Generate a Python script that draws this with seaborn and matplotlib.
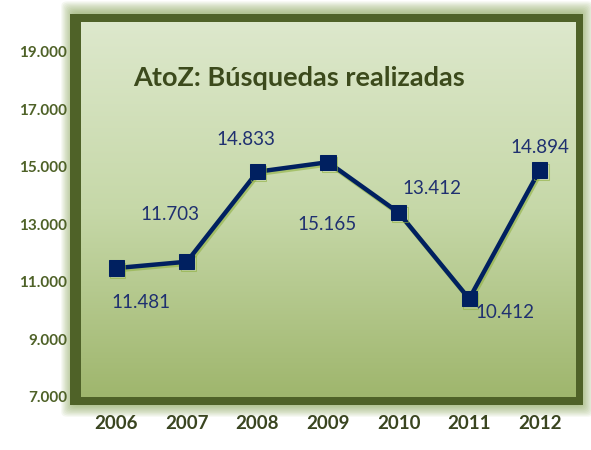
import numpy as np
import pandas as pd
import matplotlib
matplotlib.use('Agg')
import matplotlib.pyplot as plt
import matplotlib.patches as mpatches
import matplotlib.patheffects as pe
import seaborn as sns

# Chart data
years = ['2006', '2007', '2008', '2009', '2010', '2011', '2012']
searches = [11481, 11703, 14833, 15165, 13412, 10412, 14894]
value_labels = ['11.481', '11.703', '14.833', '15.165', '13.412', '10.412', '14.894']
y_ticks = [7000, 9000, 11000, 13000, 15000, 17000, 19000]
y_tick_labels = ['7.000', '9.000', '11.000', '13.000', '15.000', '17.000', '19.000']
# label offsets in points (dx, dy) around each marker
label_offsets = [(18, -25), (-12, 34), (-8, 23), (-1, -45), (24, 17), (26, -10), (0, 16)]

df = pd.DataFrame({'year': years, 'searches': searches})
df['pos'] = np.arange(len(years))

sns.set_theme(style='white')
plt.rcParams['font.family'] = ['Lato', 'DejaVu Sans']

fig = plt.figure(figsize=(5.91, 4.5), dpi=100)
ax = fig.add_axes([0.137, 0.118, 0.836, 0.833])

# soft glow around the plot frame
x0, y0, w, h = 0.137, 0.118, 0.836, 0.833
for i in range(10, 0, -1):
    pad = i * 0.0028
    fig.patches.append(mpatches.FancyBboxPatch(
        (x0 - 0.012 - pad * 0.76, y0 - 0.016 - pad), w + 0.022 + 2 * pad * 0.76, h + 0.034 + 2 * pad,
        boxstyle='round,pad=0,rounding_size=0.01', transform=fig.transFigure,
        facecolor='#7a9a40', edgecolor='none', alpha=0.08, zorder=-2))
fig.patches.append(mpatches.Rectangle(
    (x0 - 0.018, y0 - 0.018), w + 0.032, h + 0.036, transform=fig.transFigure,
    facecolor='#4f6228', edgecolor='none', zorder=-1))

# gradient background
grad = np.linspace(0, 1, 256).reshape(-1, 1)
cmap = matplotlib.colors.LinearSegmentedColormap.from_list('g', ['#dde8cc', '#c6d8a8', '#9fb66d'])
ax.imshow(grad, aspect='auto', cmap=cmap, extent=[0, 1, 0, 1], transform=ax.transAxes, zorder=0)

sns.lineplot(data=df, x='pos', y='searches', ax=ax, color='#002060', linewidth=3.2,
             marker='s', markersize=11, markeredgecolor='#002060', zorder=3,
             path_effects=[pe.SimpleLineShadow(offset=(1, -1.5), shadow_color='#8fb040', alpha=0.6),
                           pe.Normal()])

for xi, yi, lab, (dx, dy) in zip(df['pos'], searches, value_labels, label_offsets):
    ax.annotate(lab, (xi, yi), xytext=(dx, dy), textcoords='offset points',
                ha='center', va='center', fontsize=13.5, color='#1f3070', zorder=4)

ax.text(0.105, 0.85, 'AtoZ: Búsquedas realizadas', transform=ax.transAxes,
        fontsize=19.5, fontweight='bold', color='#3c4a1c', ha='left', va='center')

ax.set_xlim(-0.5, 6.5)
ax.set_ylim(7000, 20040)
ax.set_xticks(df['pos'])
ax.set_xticklabels(years)
ax.set_yticks(y_ticks)
ax.set_yticklabels(y_tick_labels)
ax.set_xlabel('')
ax.set_ylabel('')
for lab in ax.get_yticklabels():
    lab.set_fontweight('bold')
    lab.set_fontsize(11)
    lab.set_color('#4f6228')
for lab in ax.get_xticklabels():
    lab.set_fontweight('bold')
    lab.set_fontsize(13.5)
    lab.set_color('#3a4520')
ax.tick_params(axis='y', length=0, pad=10)
ax.tick_params(axis='x', length=0, pad=13)
for s in ax.spines.values():
    s.set_visible(False)
ax.grid(False)

fig.savefig('out.png', dpi=100)
